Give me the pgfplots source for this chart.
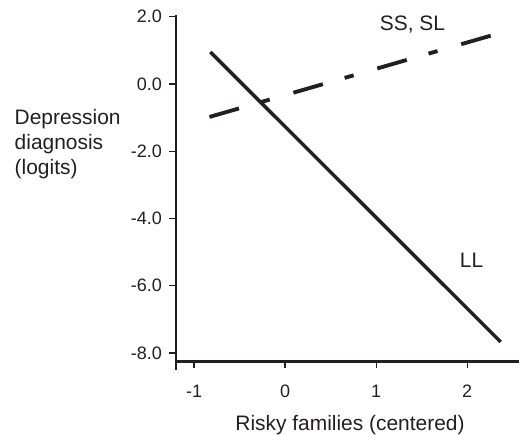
\documentclass[border=0pt]{standalone}
\usepackage{fontspec}
\setmainfont{Liberation Sans}
\usepackage{pgfplots}
\pgfplotsset{compat=1.18}
\definecolor{ink}{HTML}{231F20}
\newcommand{\lbl}{\fontsize{15.7}{19}\selectfont}
\begin{document}
\begin{tikzpicture}
\begin{axis}[
    x=68.25pt, y=25.22pt,
    xmin=-1.198, xmax=2.571,
    ymin=-8.25, ymax=2.05,
    axis lines=left,
    axis line style={line width=2pt, -, ink},
    tick style={line width=0.8pt, ink},
    tick align=outside,
    major tick length=5pt,
    xtick={-1,0,1,2}, xticklabels={-1,0,1,2},
    ytick={-8,-6,-4,-2,0,2},
    yticklabels={-8.0,-6.0,-4.0,-2.0,0.0,2.0},
    tick label style={font=\fontsize{13.5}{15}\selectfont, text=ink},
    xticklabel style={yshift=-9pt},
    yticklabel style={xshift=-2pt},
    clip=false,
]
% y axis runs a little below the x axis
\draw[line width=2pt, ink] (axis cs:-1.198,-8.25) -- (axis cs:-1.198,-8.5);

\addplot[ink, line width=2.6pt] coordinates {(-0.82,0.95) (2.37,-7.67)};
\addplot[ink, line width=2.9pt, dash pattern=on 23pt off 17pt on 7pt off 18.5pt]
    coordinates {(-0.83,-0.98) (2.29,1.46)};

\node[font=\lbl, text=ink] at (axis cs:1.40,1.76) {SS, SL};
\node[font=\lbl, text=ink] at (axis cs:2.05,-5.23) {LL};
\node[font=\lbl, text=ink, align=left, anchor=base west]
    at (axis cs:-3.022,-2.706) {Depression\\diagnosis\\(logits)};
\node[font=\lbl, text=ink, anchor=base] at (axis cs:0.714,-10.29) {Risky families (centered)};

\coordinate (BL) at (axis cs:-3.132,-10.409);
\coordinate (TR) at (axis cs:2.571,2.498);
\end{axis}
\pgfresetboundingbox
\path[use as bounding box] (BL) rectangle (TR);
\end{tikzpicture}
\end{document}
